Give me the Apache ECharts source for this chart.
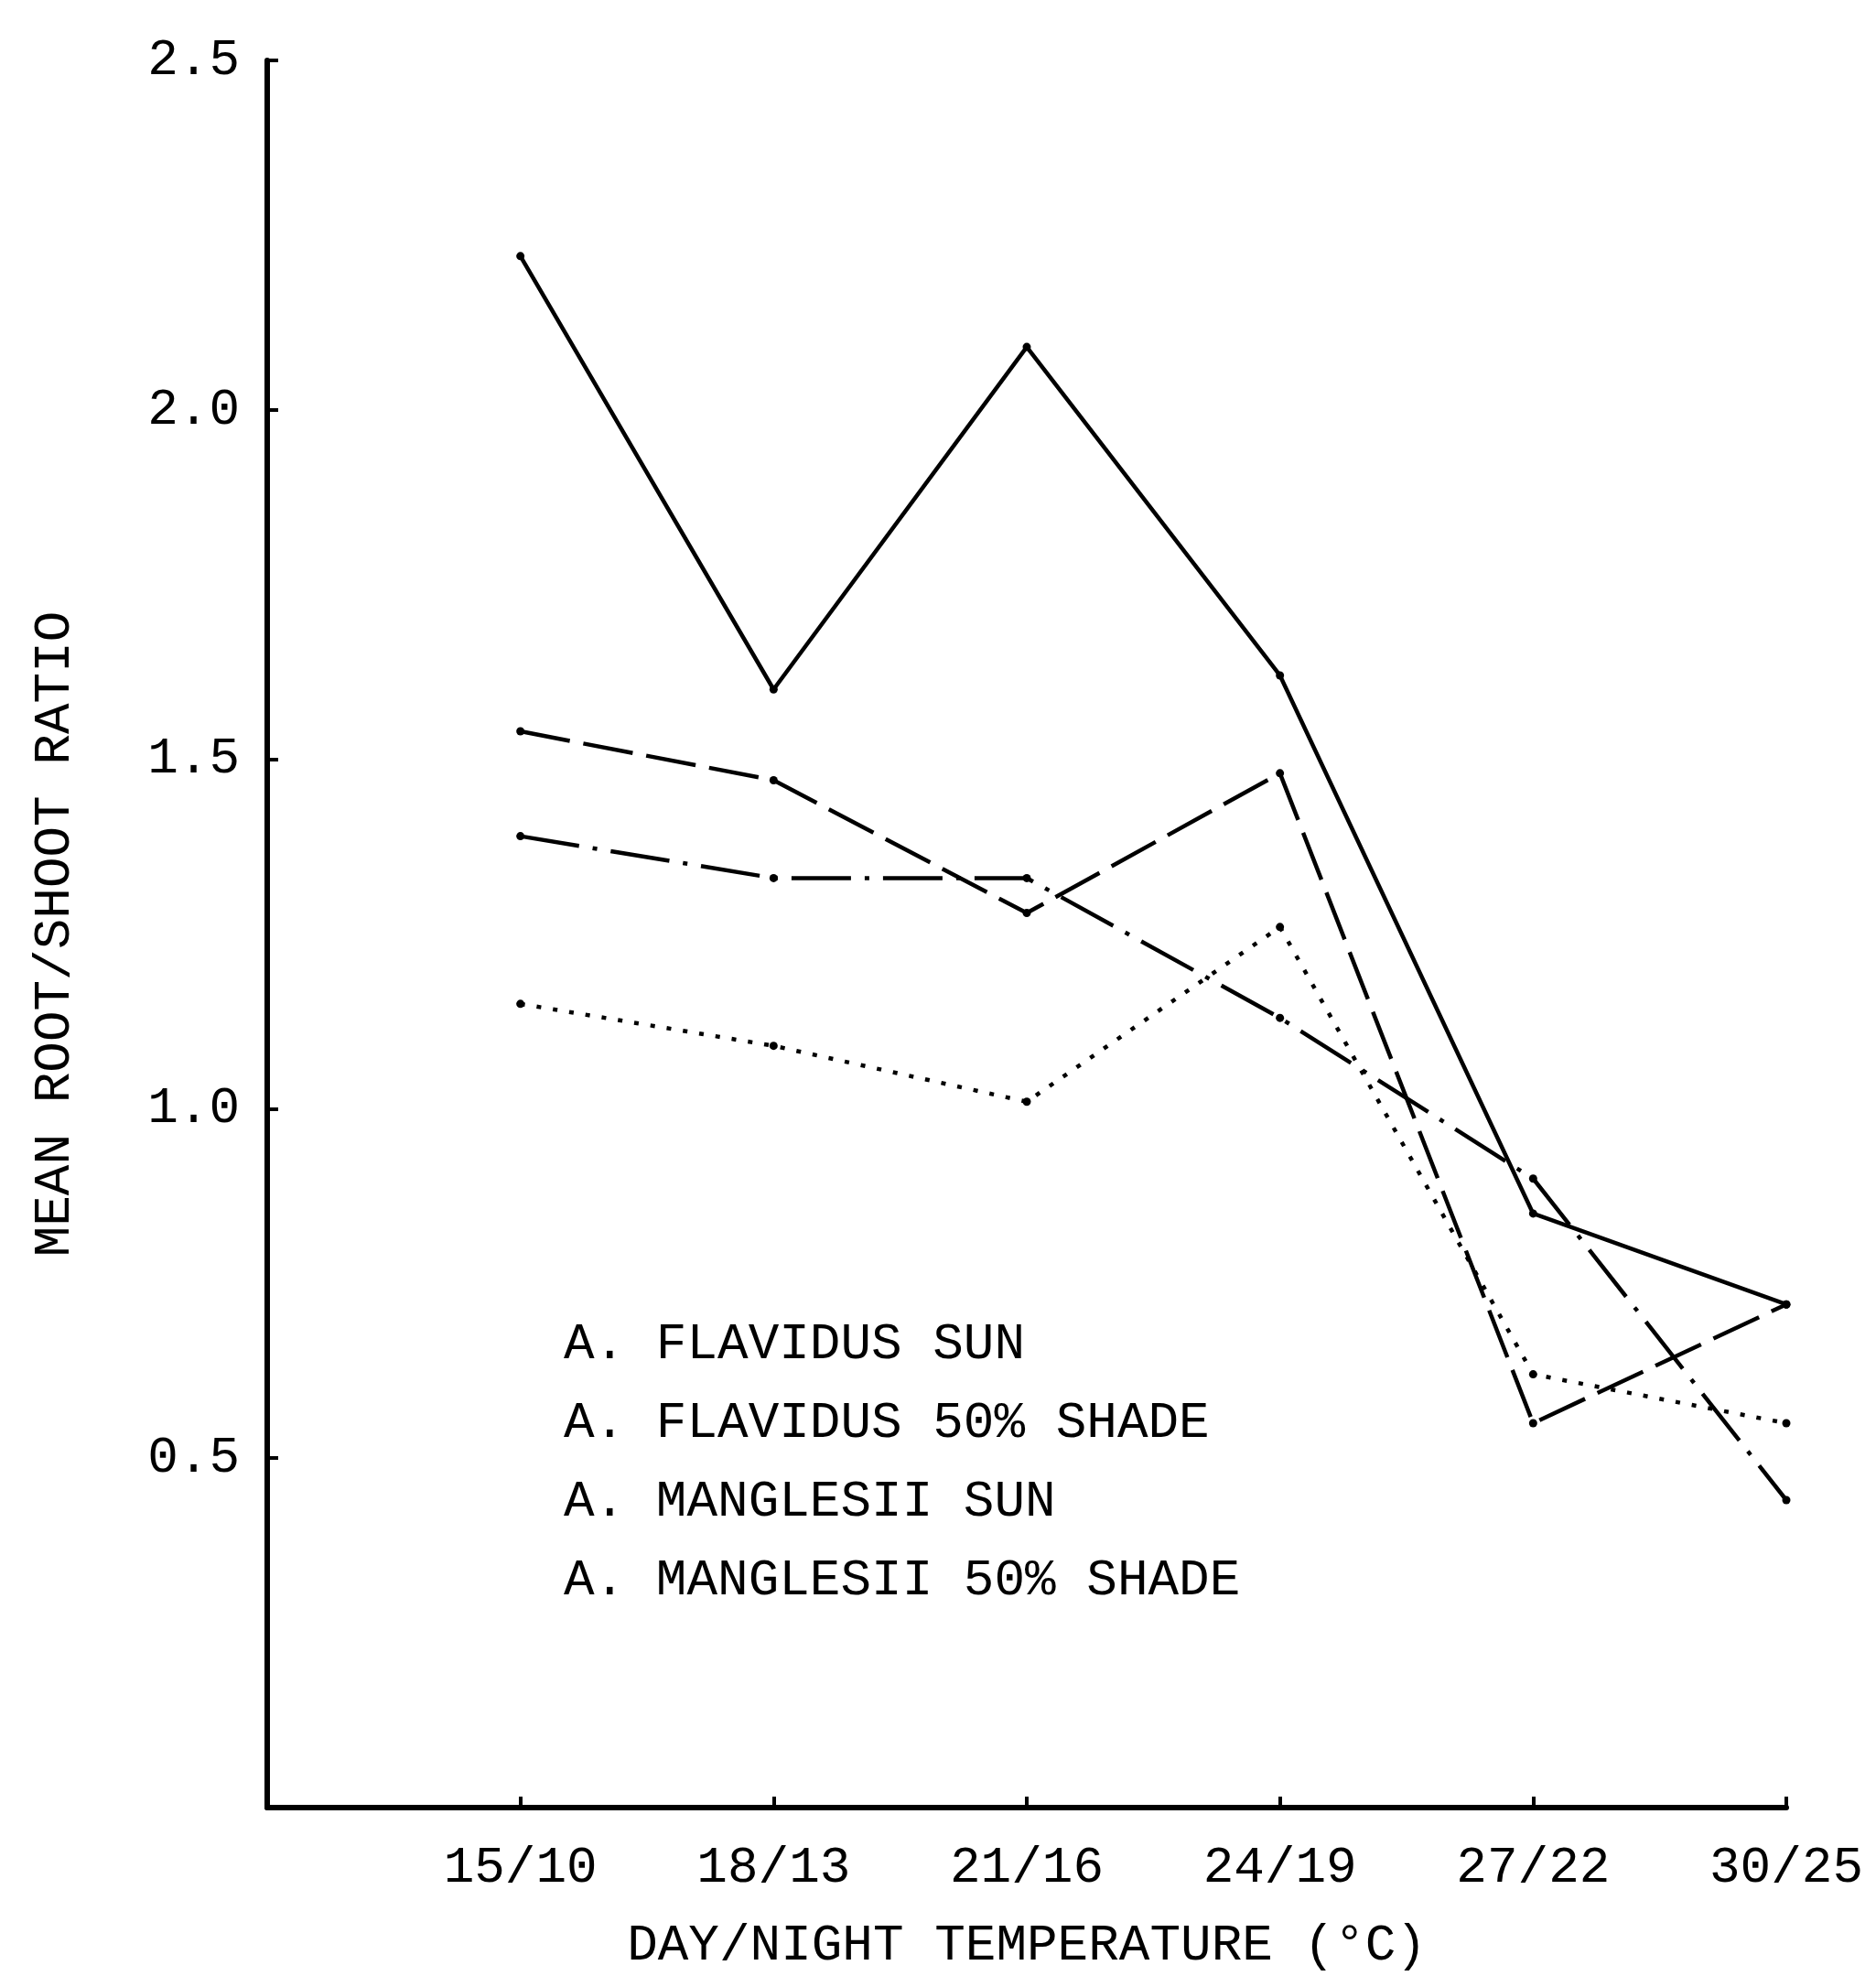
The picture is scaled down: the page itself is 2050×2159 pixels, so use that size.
<!DOCTYPE html>
<html>
<head>
<meta charset="utf-8">
<script src="https://cdn.jsdelivr.net/npm/echarts@6/dist/echarts.min.js"></script>
<style>
html,body{margin:0;padding:0;background:#fff;}
#chart{width:2050px;height:2159px;}
</style>
</head>
<body>
<div id="chart"></div>
<script>
// Categories (day/night temperature)
const categories = ['15/10', '18/13', '21/16', '24/19', '27/22', '30/25'];
// Series values (mean root/shoot ratio)
const flavidusSun = [2.22, 1.60, 2.09, 1.62, 0.85, 0.72];
const flavidusShade = [1.54, 1.47, 1.28, 1.48, 0.55, 0.72];
const manglesiiSun = [1.39, 1.33, 1.33, 1.13, 0.90, 0.44];
const manglesiiShade = [1.15, 1.09, 1.01, 1.26, 0.62, 0.55];
const seriesNames = ['A. FLAVIDUS SUN', 'A. FLAVIDUS 50% SHADE', 'A. MANGLESII SUN', 'A. MANGLESII 50% SHADE'];
// Y tick labels
const yTicks = [0.5, 1.0, 1.5, 2.0, 2.5];

const FONT = 'Liberation Mono';
const toPairs = vals => vals.map((v, i) => [i + 1, v]);

const styles = ['solid', [55, 15], [65, 15, 5, 15], [5, 13]];
const allVals = [flavidusSun, flavidusShade, manglesiiSun, manglesiiShade];

const chart = echarts.init(document.getElementById('chart'), null, {renderer: 'canvas'});
chart.setOption({
  backgroundColor: '#ffffff',
  animation: false,
  grid: {left: 292, right: 98, top: 66, bottom: 174, containLabel: false},
  legend: {
    orient: 'vertical',
    left: 606,
    top: 1436,
    itemWidth: 0,
    itemHeight: 0,
    itemGap: 30,
    icon: 'rect',
    selectedMode: false,
    data: seriesNames,
    textStyle: {fontFamily: FONT, fontSize: 56, color: '#000'}
  },
  xAxis: {
    type: 'value',
    min: 0, max: 6, interval: 1,
    name: 'DAY/NIGHT TEMPERATURE (°C)',
    nameLocation: 'middle',
    nameGap: 123,
    nameTextStyle: {fontFamily: FONT, fontSize: 56, color: '#000'},
    axisLine: {show: true, onZero: false, lineStyle: {color: '#000', width: 6}},
    axisTick: {show: true, inside: true, length: 12, lineStyle: {color: '#000', width: 4}},
    axisLabel: {
      margin: 38,
      fontFamily: FONT, fontSize: 56, color: '#000',
      formatter: v => (v >= 1 && v <= categories.length) ? categories[v - 1] : ''
    },
    splitLine: {show: false}
  },
  yAxis: {
    type: 'value',
    min: 0, max: 2.5, interval: 0.5,
    name: 'MEAN ROOT/SHOOT RATIO',
    nameLocation: 'middle',
    nameGap: 204,
    nameRotate: 90,
    nameTextStyle: {fontFamily: FONT, fontSize: 56, color: '#000'},
    axisLine: {show: true, lineStyle: {color: '#000', width: 6}},
    axisTick: {show: true, inside: true, length: 12, lineStyle: {color: '#000', width: 4}},
    axisLabel: {
      margin: 30,
      fontFamily: FONT, fontSize: 56, color: '#000',
      formatter: v => yTicks.some(t => Math.abs(t - v) < 1e-9) ? v.toFixed(1) : ''
    },
    splitLine: {show: false}
  },
  series: seriesNames.map((name, k) => ({
    name: name,
    type: 'line',
    data: toPairs(allVals[k]),
    symbol: 'circle',
    symbolSize: 9,
    itemStyle: {color: '#000'},
    lineStyle: {color: '#000', width: 4.5, type: styles[k]},
    z: 3
  }))
});
</script>
</body>
</html>
